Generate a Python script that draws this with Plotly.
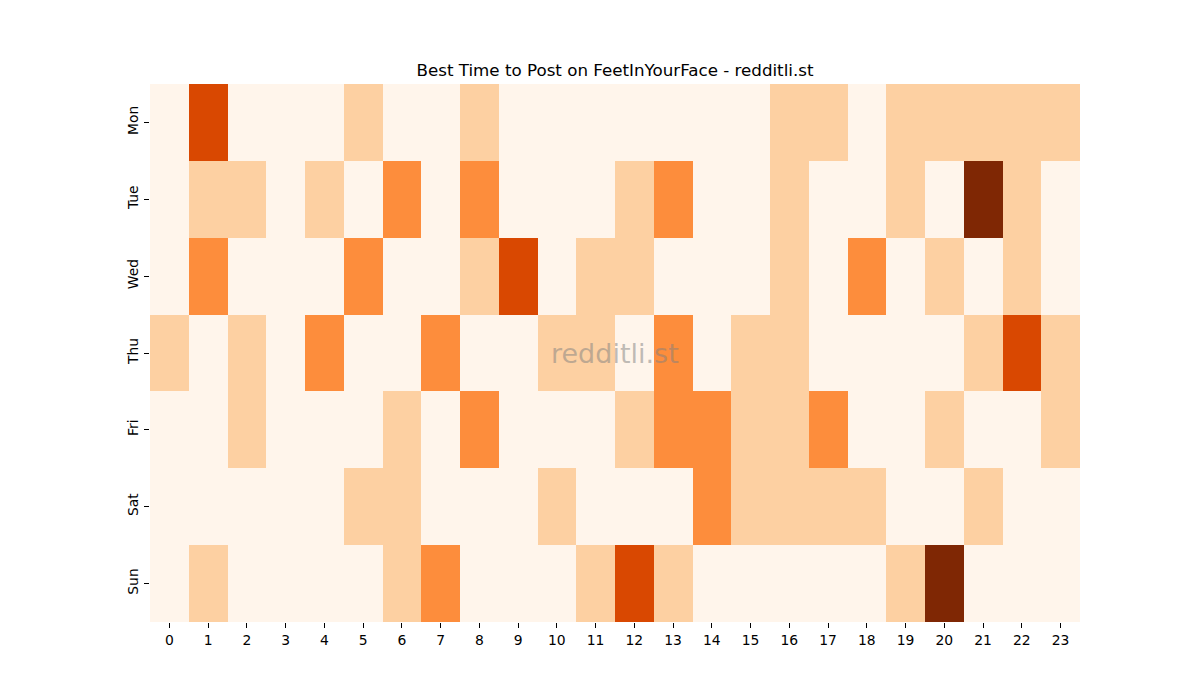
import plotly.graph_objects as go

days = ["Mon", "Tue", "Wed", "Thu", "Fri", "Sat", "Sun"]
hours = [str(h) for h in range(24)]

mon = [0, 3, 0, 0, 0, 1, 0, 0, 1, 0, 0, 0, 0, 0, 0, 0, 1, 1, 0, 1, 1, 1, 1, 1]
tue = [0, 1, 1, 0, 1, 0, 2, 0, 2, 0, 0, 0, 1, 2, 0, 0, 1, 0, 0, 1, 0, 4, 1, 0]
wed = [0, 2, 0, 0, 0, 2, 0, 0, 1, 3, 0, 1, 1, 0, 0, 0, 1, 0, 2, 0, 1, 0, 1, 0]
thu = [1, 0, 1, 0, 2, 0, 0, 2, 0, 0, 1, 1, 0, 2, 0, 1, 1, 0, 0, 0, 0, 1, 3, 1]
fri = [0, 0, 1, 0, 0, 0, 1, 0, 2, 0, 0, 0, 1, 2, 2, 1, 1, 2, 0, 0, 1, 0, 0, 1]
sat = [0, 0, 0, 0, 0, 1, 1, 0, 0, 0, 1, 0, 0, 0, 2, 1, 1, 1, 1, 0, 0, 1, 0, 0]
sun = [0, 1, 0, 0, 0, 0, 1, 2, 0, 0, 0, 1, 3, 1, 0, 0, 0, 0, 0, 1, 4, 0, 0, 0]

z = [mon, tue, wed, thu, fri, sat, sun]

fig = go.Figure(
    go.Heatmap(
        z=z,
        x=hours,
        y=days,
        colorscale="Oranges",
        zmin=0,
        zmax=4,
        showscale=False,
        xgap=0,
        ygap=0,
        hoverongaps=False,
    )
)

font_family = "DejaVu Sans"

fig.update_layout(
    width=1200,
    height=700,
    paper_bgcolor="white",
    plot_bgcolor="white",
    margin=dict(l=150, r=120, t=84, b=78),
    font=dict(family=font_family, size=14, color="black"),
    title=dict(
        text="Best Time to Post on FeetInYourFace - redditli.st",
        x=615 / 1200,
        xanchor="center",
        y=1 - 70 / 700,
        yanchor="middle",
        font=dict(family=font_family, size=16.7, color="black"),
    ),
    xaxis=dict(
        type="category",
        showgrid=False,
        zeroline=False,
        showline=False,
        ticks="outside",
        ticklen=5,
        tickwidth=1,
        tickcolor="black",
        tickfont=dict(size=13.9),
    ),
    yaxis=dict(
        type="category",
        autorange="reversed",
        showgrid=False,
        zeroline=False,
        showline=False,
        ticks="outside",
        ticklen=5,
        tickwidth=1,
        tickcolor="black",
        tickangle=-90,
        tickfont=dict(size=13.9),
    ),
    annotations=[
        dict(
            text="redditli.st",
            x=0.5,
            y=0.5,
            xref="paper",
            yref="paper",
            showarrow=False,
            font=dict(family=font_family, size=27, color="rgba(128,128,128,0.5)"),
        )
    ],
)

fig.write_html("out.html")
